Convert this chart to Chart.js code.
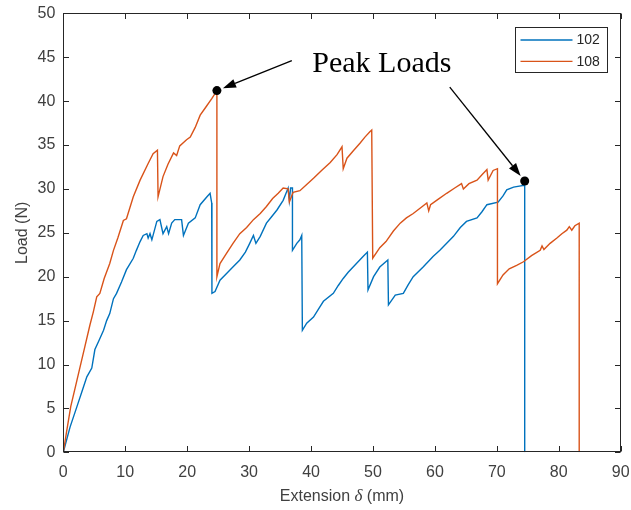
<!DOCTYPE html>
<html>
<head>
<meta charset="utf-8">
<script src="https://cdn.jsdelivr.net/npm/chart.js@4.4.1/dist/chart.umd.min.js"></script>
<style>
  html, body { margin: 0; padding: 0; background: #fff; }
  #wrap { width: 631px; height: 510px; position: relative; }
</style>
</head>
<body>
<div id="wrap"><canvas id="c"></canvas></div>
<script>
// Load–extension records of specimens 102 and 108
const ext102 = [0, 0.3, 1.1, 2.2, 3.0, 3.8, 4.6, 5.1, 5.8, 6.5, 7.0, 7.5, 8.1, 8.6, 9.4, 10.2, 11.3, 11.8, 12.4, 12.9,
  13.5, 13.7, 14.0, 14.3, 15.1, 15.6, 16.1, 16.7, 17.0, 17.5, 18.0, 19.1, 19.4, 20.2, 21.3, 22.1, 23.2, 23.7, 23.96, 24.0,
  24.5, 25.3, 26.4, 27.5, 28.5, 29.4, 30.1, 30.7, 31.1, 31.8, 32.8, 33.6, 34.5, 35.5, 36.3, 36.5, 36.7, 37.0, 37.0, 37.7,
  38.2, 38.5, 38.6, 39.3, 40.4, 41.2, 42.0, 43.6, 44.4, 45.2, 46.0, 46.8, 47.6, 48.4, 49.1, 49.2, 50.1, 51.1, 52.4, 52.5,
  53.6, 54.9, 55.7, 56.5, 58.1, 59.7, 60.8, 61.9, 63.0, 64.1, 65.1, 66.8, 67.6, 68.4, 70.2, 71.0, 71.6, 72.7, 74.3, 74.5, 74.5];
const load102 = [0, 0.8, 2.9, 5.2, 6.9, 8.6, 9.6, 11.7, 12.8, 13.9, 15.0, 15.8, 17.5, 18.1, 19.4, 20.8, 22.1, 23.0, 24.0, 24.7,
  24.9, 24.4, 24.9, 24.2, 26.3, 26.5, 24.9, 25.7, 24.9, 26.1, 26.5, 26.5, 24.7, 26.1, 26.7, 28.2, 29.1, 29.5, 28.4, 18.1,
  18.3, 19.6, 20.4, 21.2, 21.9, 22.8, 23.8, 24.7, 23.8, 24.6, 26.1, 26.8, 27.6, 28.7, 30.1, 28.7, 30.1, 30.1, 23.0, 23.8,
  24.2, 24.7, 13.9, 14.7, 15.4, 16.3, 17.2, 18.1, 19.0, 19.8, 20.5, 21.1, 21.7, 22.3, 22.8, 18.5, 20.0, 21.1, 21.9, 16.8,
  17.9, 18.1, 19.1, 20.0, 21.1, 22.3, 23.0, 23.8, 24.6, 25.6, 26.3, 26.7, 27.4, 28.2, 28.5, 29.2, 29.9, 30.2, 30.4, 30.9, 0];

const ext108 = [0, 0.5, 1.2, 2.0, 2.7, 3.5, 4.3, 4.85, 5.4, 5.9, 6.6, 7.5, 8.1, 8.8, 9.7, 10.2, 11.3, 12.4, 13.7, 14.5,
  15.2, 15.3, 16.1, 16.9, 17.8, 18.3, 18.8, 19.9, 20.5, 21.3, 22.1, 23.0, 24.0, 24.8, 24.8, 25.3, 26.3, 27.4, 28.5, 29.6,
  30.7, 31.8, 32.8, 33.8, 34.7, 35.5, 36.3, 36.5, 37.1, 38.2, 39.3, 40.4, 41.7, 43.1, 44.2, 45.0, 45.2, 45.8, 46.9, 47.9,
  48.7, 49.5, 49.8, 49.96, 51.1, 52.1, 53.3, 54.4, 55.4, 56.5, 57.6, 58.7, 59.0, 59.3, 60.5, 61.9, 63.2, 64.3, 64.6, 65.5,
  66.8, 67.6, 68.4, 68.6, 69.4, 70.1, 70.1, 71.0, 72.0, 73.2, 74.3, 75.6, 77.0, 77.3, 77.6, 78.6, 79.7, 80.5, 81.3, 81.7,
  82.1, 82.6, 83.3, 83.3];
const load108 = [0, 2.2, 5.2, 7.6, 9.7, 12.1, 14.5, 16.0, 17.7, 18.1, 19.8, 21.5, 23.0, 24.4, 26.4, 26.6, 29.1, 31.0, 32.9, 34.0,
  34.4, 29.1, 31.4, 32.8, 34.1, 33.8, 34.9, 35.6, 35.9, 37.0, 38.4, 39.3, 40.3, 41.2, 20.0, 21.5, 22.6, 23.8, 24.9, 25.6,
  26.5, 27.2, 28.0, 28.9, 29.5, 30.1, 30.0, 28.5, 29.6, 29.8, 30.5, 31.2, 32.1, 33.0, 33.9, 34.8, 32.3, 33.5, 34.4, 35.2,
  35.9, 36.5, 36.7, 22.1, 23.3, 24.0, 25.2, 26.1, 26.7, 27.2, 27.8, 28.4, 27.5, 28.2, 28.8, 29.5, 30.1, 30.6, 30.0, 30.6,
  31.0, 31.6, 32.2, 31.0, 32.1, 32.3, 19.2, 20.2, 20.9, 21.3, 21.7, 22.4, 23.0, 23.5, 23.1, 23.8, 24.4, 24.9, 25.3, 25.7,
  25.3, 25.8, 26.1, 0];

const seriesNames = ['102', '108'];
const peakExt = [24.8, 74.5];
const peakLoad = [41.2, 30.9];
const xTickValues = [0, 10, 20, 30, 40, 50, 60, 70, 80, 90];
const yTickValues = [0, 5, 10, 15, 20, 25, 30, 35, 40, 45, 50];

const BLUE = '#0072BD';
const ORANGE = '#D95319';
const AXIS = '#262626';
const LABEL = '#404040';

const toPoints = (xs, ys) => xs.map((x, i) => ({ x, y: ys[i] }));

// "Peak Loads" callout: text anchor and arrow tails in data units
const callout = {
  text: 'Peak Loads',
  textAt: { x: 40.2, y: 43.3 },
  tails: [{ x: 36.9, y: 44.6 }, { x: 62.4, y: 41.6 }]
};

const framePlugin = {
  id: 'frame',
  afterDatasetsDraw(chart) {
    const { ctx, chartArea: a, scales: { x, y } } = chart;
    ctx.save();
    ctx.strokeStyle = AXIS;
    ctx.lineWidth = 1;
    const L = Math.round(a.left) + 0.5, R = Math.round(a.right) - 0.5;
    const T = Math.round(a.top) + 0.5, B = Math.round(a.bottom) - 0.5;
    ctx.strokeRect(L, T, R - L, B - T);
    const tl = 5.5;
    ctx.beginPath();
    xTickValues.forEach(v => {
      const px = Math.round(x.getPixelForValue(v)) + 0.5;
      ctx.moveTo(px, B); ctx.lineTo(px, B - tl);
      ctx.moveTo(px, T); ctx.lineTo(px, T + tl);
    });
    yTickValues.forEach(v => {
      const py = Math.round(y.getPixelForValue(v)) + 0.5;
      ctx.moveTo(L, py); ctx.lineTo(L + tl, py);
      ctx.moveTo(R, py); ctx.lineTo(R - tl, py);
    });
    ctx.stroke();
    ctx.restore();
  },
  afterDraw(chart) {
    const { ctx, chartArea: a, scales: { x, y } } = chart;
    ctx.save();

    // axis titles
    ctx.fillStyle = LABEL;
    ctx.textBaseline = 'alphabetic';
    const partA = 'Extension ', partB = '\u03B4', partC = ' (mm)';
    const fSans = '16px "Liberation Sans", Arial, sans-serif';
    const fIt = 'italic 17px "Liberation Serif", "Times New Roman", serif';
    ctx.font = fSans;
    const wA = ctx.measureText(partA).width, wC = ctx.measureText(partC).width;
    ctx.font = fIt;
    const wB = ctx.measureText(partB).width;
    let sx = (a.left + a.right) / 2 - (wA + wB + wC) / 2;
    const by = a.bottom + 49;
    ctx.textAlign = 'left';
    ctx.font = fSans; ctx.fillText(partA, sx, by); sx += wA;
    ctx.font = fIt; ctx.fillText(partB, sx, by); sx += wB;
    ctx.font = fSans; ctx.fillText(partC, sx, by);

    ctx.save();
    ctx.translate(a.left - 41, (a.top + a.bottom) / 2);
    ctx.rotate(-Math.PI / 2);
    ctx.textAlign = 'center';
    ctx.textBaseline = 'middle';
    ctx.font = fSans;
    ctx.fillText('Load (N)', 0, 0);
    ctx.restore();

    // legend
    const lw = 92, lh = 45;
    const lx = Math.round(a.right - 13.7 - lw) + 0.5, ly = Math.round(a.top + 13.7) + 0.5;
    ctx.fillStyle = '#fff';
    ctx.fillRect(lx, ly, lw, lh);
    ctx.strokeStyle = AXIS;
    ctx.lineWidth = 1;
    ctx.strokeRect(lx, ly, lw, lh);
    ctx.font = '14px "Liberation Sans", Arial, sans-serif';
    ctx.textAlign = 'left';
    ctx.textBaseline = 'middle';
    [BLUE, ORANGE].forEach((c, i) => {
      const yy = ly + 12.5 + i * 21.3;
      ctx.strokeStyle = c;
      ctx.lineWidth = 1.3;
      ctx.beginPath();
      ctx.moveTo(lx + 5, yy); ctx.lineTo(lx + 57, yy);
      ctx.stroke();
      ctx.fillStyle = AXIS;
      ctx.fillText(seriesNames[i], lx + 61, yy + 0.5);
    });

    // callout text and arrows
    ctx.fillStyle = '#000';
    ctx.font = '30px "Liberation Serif", "Times New Roman", serif';
    ctx.textAlign = 'left';
    ctx.textBaseline = 'alphabetic';
    ctx.fillText(callout.text, x.getPixelForValue(callout.textAt.x), y.getPixelForValue(callout.textAt.y));

    ctx.strokeStyle = '#000';
    ctx.lineWidth = 1.3;
    callout.tails.forEach((t, i) => {
      const x0 = x.getPixelForValue(t.x), y0 = y.getPixelForValue(t.y);
      const px = x.getPixelForValue(peakExt[i]), py = y.getPixelForValue(peakLoad[i]);
      const dx = px - x0, dy = py - y0, d = Math.hypot(dx, dy);
      const ux = dx / d, uy = dy / d;
      const tipX = px - ux * 6.5, tipY = py - uy * 6.5;
      const hl = 13, hw = 4.5;
      const bx = tipX - ux * hl, byy = tipY - uy * hl;
      ctx.beginPath();
      ctx.moveTo(x0, y0); ctx.lineTo(bx, byy);
      ctx.stroke();
      ctx.beginPath();
      ctx.moveTo(tipX, tipY);
      ctx.lineTo(bx - uy * hw, byy + ux * hw);
      ctx.lineTo(bx + uy * hw, byy - ux * hw);
      ctx.closePath();
      ctx.fill();
    });
    ctx.restore();
  }
};

new Chart(document.getElementById('c'), {
  type: 'line',
  data: {
    datasets: [
      { type: 'scatter', label: 'peaks', data: toPoints(peakExt, peakLoad), pointRadius: 4.5,
        pointBackgroundColor: '#000', pointBorderWidth: 0, showLine: false, order: 0 },
      { label: seriesNames[0], data: toPoints(ext102, load102), borderColor: BLUE, borderWidth: 1.4,
        pointRadius: 0, tension: 0, fill: false, order: 2 },
      { label: seriesNames[1], data: toPoints(ext108, load108), borderColor: ORANGE, borderWidth: 1.4,
        pointRadius: 0, tension: 0, fill: false, order: 1 }
    ]
  },
  options: {
    responsive: true,
    maintainAspectRatio: false,
    animation: false,
    devicePixelRatio: 1,
    layout: { padding: { left: 0, right: 10.3, top: 13.3, bottom: 0 } },
    plugins: { legend: { display: false }, tooltip: { enabled: false } },
    scales: {
      x: {
        type: 'linear', min: 0, max: 90,
        afterBuildTicks: s => { s.ticks = xTickValues.map(v => ({ value: v })); },
        afterFit: s => { s.height = 57.7; s.paddingLeft = 0; s.paddingRight = 0; },
        grid: { display: false, drawTicks: false },
        border: { display: false },
        ticks: { color: LABEL, padding: 11, maxRotation: 0, autoSkip: false,
          font: { family: '"Liberation Sans", Arial, sans-serif', size: 16 } }
      },
      y: {
        type: 'linear', min: 0, max: 50,
        afterBuildTicks: s => { s.ticks = yTickValues.map(v => ({ value: v })); },
        afterFit: s => { s.width = 63.3; s.paddingTop = 0; s.paddingBottom = 0; },
        grid: { display: false, drawTicks: false },
        border: { display: false },
        ticks: { color: LABEL, padding: 8, autoSkip: false,
          font: { family: '"Liberation Sans", Arial, sans-serif', size: 16 } }
      }
    }
  },
  plugins: [framePlugin]
});
</script>
</body>
</html>
